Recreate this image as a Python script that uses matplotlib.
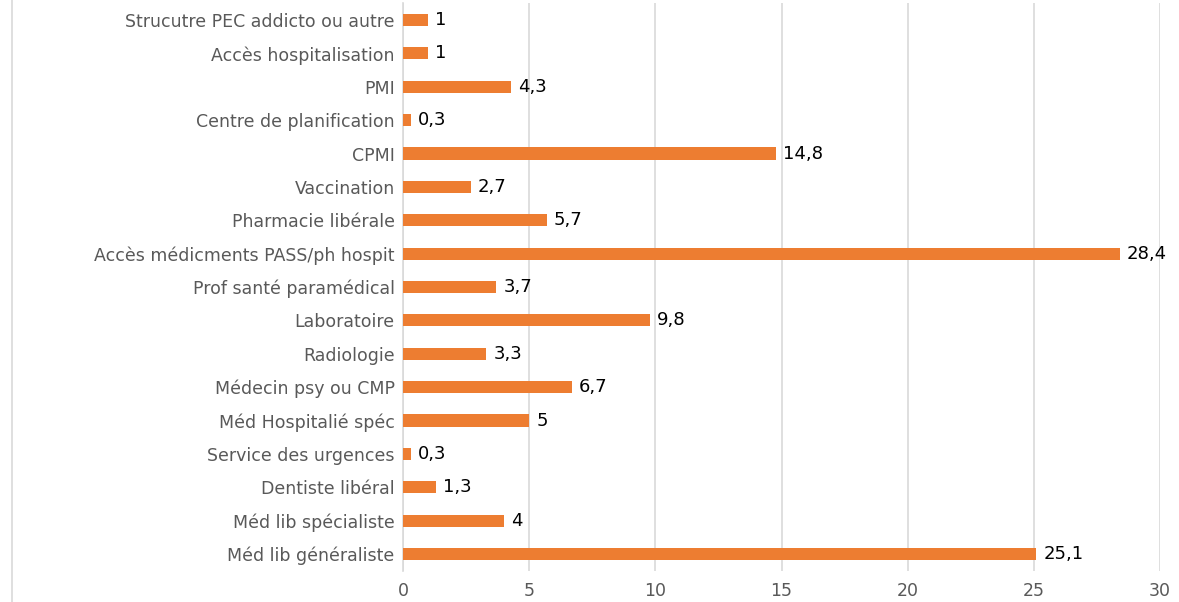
import matplotlib
matplotlib.use('Agg')
import matplotlib.pyplot as plt
from matplotlib.lines import Line2D

# categories listed bottom to top
categories = ['Méd lib généraliste', 'Méd lib spécialiste', 'Dentiste libéral',
              'Service des urgences', 'Méd Hospitalié spéc', 'Médecin psy ou CMP',
              'Radiologie', 'Laboratoire', 'Prof santé paramédical',
              'Accès médicments PASS/ph hospit', 'Pharmacie libérale',
              'Vaccination', 'CPMI', 'Centre de planification', 'PMI',
              'Accès hospitalisation', 'Strucutre PEC addicto ou autre']
values = [25.1, 4, 1.3, 0.3, 5, 6.7, 3.3, 9.8, 3.7, 28.4, 5.7, 2.7, 14.8,
          0.3, 4.3, 1, 1]
xticks = [0, 5, 10, 15, 20, 25, 30]

bar_color = '#ED7D31'
grid_color = '#D9D9D9'
text_gray = '#595959'

plt.rcParams['font.family'] = ['DejaVu Sans']

fig = plt.figure(figsize=(11.79, 6.02), dpi=100)
ax = fig.add_axes([0.3418, 0.052, 0.9839 - 0.3418, 0.9425])

pos = list(range(len(categories)))
ax.barh(pos, values, height=0.36, color=bar_color, zorder=3)

for p, v in zip(pos, values):
    txt = ('%g' % v).replace('.', ',')
    ax.annotate(txt, (v, p), xytext=(5, 0), textcoords='offset points',
                va='center', ha='left', fontsize=13, color='black')

ax.set_xlim(0, 30)
ax.set_ylim(-0.5, len(categories) - 0.5)
ax.set_xticks(xticks)
ax.set_yticks(pos)
ax.set_yticklabels(categories, fontsize=12.5, color=text_gray)
ax.tick_params(axis='x', length=0, labelsize=12.5, labelcolor=text_gray, pad=8)
ax.tick_params(axis='y', length=0, pad=6)
ax.xaxis.grid(True, color=grid_color, linewidth=1.2, zorder=0)
ax.set_axisbelow(True)

for side in ['top', 'right', 'bottom']:
    ax.spines[side].set_visible(False)
ax.spines['left'].set_color(grid_color)
ax.spines['left'].set_linewidth(1.2)

# chart frame edge on the left
fig.add_artist(Line2D([12 / 1179, 12 / 1179], [0, 1], color=grid_color,
                      linewidth=1.2, transform=fig.transFigure))

fig.savefig('out.png', dpi=100)
